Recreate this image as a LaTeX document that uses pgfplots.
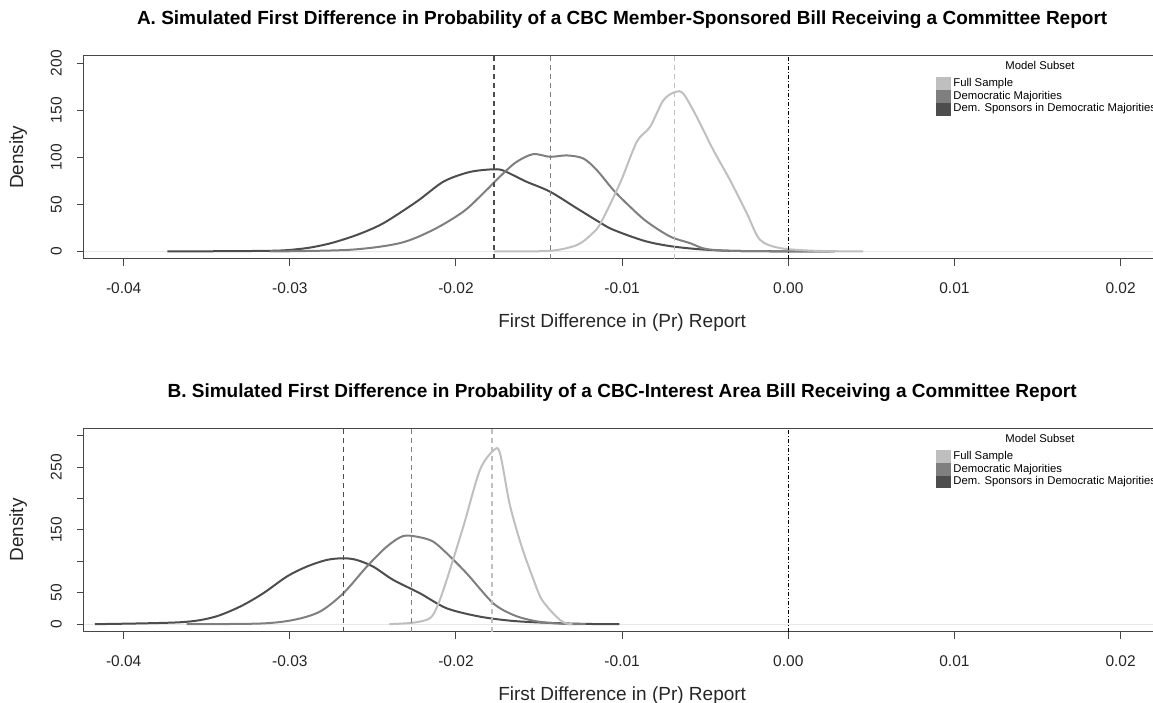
\documentclass[border=0pt]{standalone}
\usepackage{fontspec}
\setmainfont{Liberation Sans}
\usepackage{pgfplots}
\pgfplotsset{compat=1.18}
\definecolor{lightc}{RGB}{191,191,191}
\definecolor{medc}{RGB}{127,127,127}
\definecolor{darkc}{RGB}{77,77,77}
\definecolor{axc}{RGB}{70,70,70}
\definecolor{zeroc}{RGB}{232,232,232}

\pgfplotsset{
  panel/.style={
    scale only axis, width=1076.7pt, height=203.4pt,
    xmin=-0.0424, xmax=0.0224,
    scaled x ticks=false, scaled y ticks=false,
    axis line style={axc, line width=1pt},
    tick align=outside, major tick length=7pt,
    tick style={axc, line width=1pt},
    xtick pos=bottom, ytick pos=left,
    xtick={-0.04,-0.03,-0.02,-0.01,0,0.01,0.02},
    xticklabels={-0.04,-0.03,-0.02,-0.01,0.00,0.01,0.02},
    xticklabel style={font=\fontsize{15.5}{17}\selectfont, anchor=north, inner sep=0pt, color=black!85},
    xticklabel shift=16.5pt,
    yticklabel style={font=\fontsize{15.5}{17}\selectfont, rotate=90, anchor=south, inner sep=0pt, color=black!85},
    yticklabel shift=14.8pt,
    xlabel={First Difference in (Pr) Report},
    ylabel={Density},
    every axis x label/.style={at={([yshift=-64pt]axis description cs:0.5,0)}, anchor=center, font=\fontsize{19}{21}\selectfont, color=black!85},
    every axis y label/.style={at={([xshift=-65.5pt]axis description cs:0,0.5)}, rotate=90, anchor=center, font=\fontsize{19}{21}\selectfont, color=black!85},
    every axis title/.style={at={([yshift=31pt]axis description cs:0.5,1)}, anchor=base, font=\bfseries\fontsize{19}{21}\selectfont},
    legend cell align=left,
    legend style={at={(axis description cs:0.7915,0.8933)}, anchor=north west, draw=none, fill=none,
      inner sep=0pt, column sep=3pt, row sep=0.5pt,
      font=\fontsize{11.3}{12.5}\selectfont,
      nodes={inner sep=0.5pt, text height=8.5pt, text depth=2.5pt}},
    curve/.style={line width=2pt, smooth, forget plot},
    vline/.style={line width=1.6pt, dash pattern=on 5pt off 4pt, forget plot},
  },
  lgimg/.style={legend image code/.code={\fill[#1] (0pt,-5.9pt) rectangle (13.3pt,5.9pt);}},
}

\begin{document}
\begin{tikzpicture}[x=1pt,y=1pt]
\coordinate (Apos) at (0,0);
\coordinate (Bpos) at (0,-372.7);

% ---------------- Panel A ----------------
\begin{axis}[panel, at={(Apos)}, anchor=south west,
  ymin=-8, ymax=208, ytick={0,50,100,150,200},
  yticklabels={0,50,100,150,200},
  title={A. Simulated First Difference in Probability of a CBC Member-Sponsored Bill Receiving a Committee Report}]
\addlegendimage{lgimg=lightc}\addlegendentry{Full Sample}
\addlegendimage{lgimg=medc}\addlegendentry{Democratic Majorities}
\addlegendimage{lgimg=darkc}\addlegendentry{Dem. Sponsors in Democratic Majorities}

\addplot[zeroc, line width=1pt, forget plot] coordinates {(-0.0424,0) (0.0224,0)};

% Dem. Sponsors in Democratic Majorities
\addplot[darkc, curve] coordinates {
(-0.03737,0) (-0.0312,0.7) (-0.0295,2.5) (-0.0285,5) (-0.02738,9.5) (-0.0259,18)
(-0.02437,30) (-0.02236,53) (-0.02077,74) (-0.01935,83.6) (-0.01836,86.5)
(-0.01735,87) (-0.01656,81) (-0.01575,74) (-0.01434,63.5) (-0.01274,46)
(-0.01133,30.7) (-0.01053,23) (-0.00853,10.6) (-0.00651,4.3) (-0.00351,0.7) (0.00281,0)};

% Democratic Majorities
\addplot[medc, curve] coordinates {
(-0.0312,0) (-0.02638,1.8) (-0.02337,8.9) (-0.02137,23) (-0.01956,42.3)
(-0.01836,61.8) (-0.01715,83) (-0.01635,95.2) (-0.01535,103.4) (-0.01434,100.5)
(-0.01334,102) (-0.01234,98.8) (-0.01153,86.5) (-0.01053,65.3) (-0.00953,47.6)
(-0.00852,31.7) (-0.00712,15.9) (-0.00592,8.9) (-0.00491,2.5) (-0.0029,0.5) (0.0025,0)};

% Full Sample
\addplot[lightc, curve] coordinates {
(-0.01771,0) (-0.01434,0.7) (-0.0127,7) (-0.0118,19) (-0.0113,30)
(-0.01013,72.4) (-0.00912,116.4) (-0.00832,132.3) (-0.00752,160.5)
(-0.00682,169.3) (-0.00632,167.6) (-0.00551,142.9) (-0.00451,107.6)
(-0.00351,75.9) (-0.0025,40.6) (-0.0017,12.4) (-0.0005,3.6) (0.0016,0.7) (0.00451,0)};

\addplot[darkc, vline] coordinates {(-0.01773,-8) (-0.01773,208)};
\addplot[medc, vline] coordinates {(-0.0143,-8) (-0.0143,208)};
\addplot[lightc, vline] coordinates {(-0.00686,-8) (-0.00686,208)};
\addplot[black, line width=1pt, dash pattern=on 4pt off 2pt on 1pt off 2pt, forget plot] coordinates {(0,-8) (0,208)};

\node[font=\fontsize{11.3}{12.5}\selectfont, anchor=center] at (axis description cs:0.8881,0.9508) {Model Subset};
\end{axis}

% ---------------- Panel B ----------------
\begin{axis}[panel, at={(Bpos)}, anchor=south west,
  ymin=-12, ymax=312, ytick={0,50,100,150,200,250,300},
  yticklabels={0,50,,150,,250,},
  title={B. Simulated First Difference in Probability of a CBC-Interest Area Bill Receiving a Committee Report}]
\addlegendimage{lgimg=lightc}\addlegendentry{Full Sample}
\addlegendimage{lgimg=medc}\addlegendentry{Democratic Majorities}
\addlegendimage{lgimg=darkc}\addlegendentry{Dem. Sponsors in Democratic Majorities}

\addplot[zeroc, line width=1pt, forget plot] coordinates {(-0.0424,0) (0.0224,0)};

% Dem. Sponsors in Democratic Majorities
\addplot[darkc, curve] coordinates {
(-0.04173,0) (-0.03663,3) (-0.03461,11) (-0.033,27.9) (-0.0316,49.2)
(-0.03019,75.7) (-0.02899,91.6) (-0.02778,102.3) (-0.02678,105) (-0.02598,102.3)
(-0.02498,91.6) (-0.02377,70.4) (-0.02217,49.2) (-0.02056,25.3) (-0.01856,12)
(-0.01655,5.1) (-0.01434,2) (-0.0119,0.3) (-0.01017,0)};

% Democratic Majorities
\addplot[medc, curve] coordinates {
(-0.03621,0) (-0.0318,1) (-0.02979,6.7) (-0.02819,20) (-0.02678,49.2)
(-0.02537,91.6) (-0.02417,123.4) (-0.02317,140.5) (-0.02217,138.4) (-0.02137,131.4)
(-0.02056,113) (-0.01936,81) (-0.01776,33.3) (-0.01655,14.7) (-0.01555,6.7)
(-0.01464,2.7) (-0.01334,0.3) (-0.0122,0)};

% Full Sample
\addplot[lightc, curve] coordinates {
(-0.02401,0) (-0.02257,2.4) (-0.02157,9.4) (-0.0211,30) (-0.02056,70.4) (-0.01956,155.3)
(-0.01856,245.6) (-0.01771,277.5) (-0.01735,272) (-0.0168,195) (-0.01635,150)
(-0.0159,112) (-0.01535,72) (-0.0149,42) (-0.01434,22.6) (-0.01374,6.7) (-0.01334,1) (-0.0130,0)};

\addplot[darkc, vline] coordinates {(-0.02678,-12) (-0.02678,312)};
\addplot[medc, vline] coordinates {(-0.02267,-12) (-0.02267,312)};
\addplot[lightc, vline] coordinates {(-0.01785,-12) (-0.01785,312)};
\addplot[black, line width=1pt, dash pattern=on 4pt off 2pt on 1pt off 2pt, forget plot] coordinates {(0,-12) (0,312)};

\node[font=\fontsize{11.3}{12.5}\selectfont, anchor=center] at (axis description cs:0.8881,0.9508) {Model Subset};
\end{axis}

\pgfresetboundingbox
\path[use as bounding box] (-83.8,-444) rectangle (1069.2,259);
\end{tikzpicture}
\end{document}
